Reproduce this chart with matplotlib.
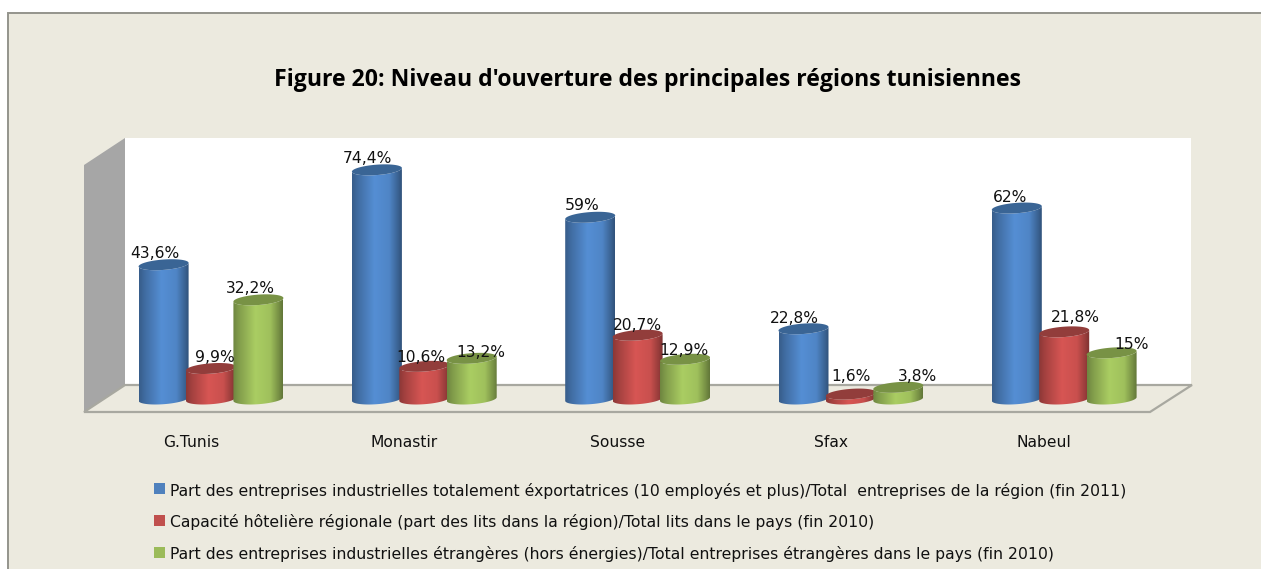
import numpy as np
import matplotlib
matplotlib.use("Agg")
import matplotlib.pyplot as plt
from matplotlib.colors import LinearSegmentedColormap, to_rgb
from matplotlib.patches import Polygon, Rectangle

# valeurs
regions = ["G.Tunis", "Monastir", "Sousse", "Sfax", "Nabeul"]
part_export = [43.6, 74.4, 59, 22.8, 62]
part_lits = [9.9, 10.6, 20.7, 1.6, 21.8]
part_etrangeres = [32.2, 13.2, 12.9, 3.8, 15]
etiq_export = ["43,6%", "74,4%", "59%", "22,8%", "62%"]
etiq_lits = ["9,9%", "10,6%", "20,7%", "1,6%", "21,8%"]
etiq_etrangeres = ["32,2%", "13,2%", "12,9%", "3,8%", "15%"]
legende = [
    "Part des entreprises industrielles totalement éxportatrices (10 employés et plus)/Total  entreprises de la région (fin 2011)",
    "Capacité hôtelière régionale (part des lits dans la région)/Total lits dans le pays (fin 2010)",
    "Part des entreprises industrielles étrangères (hors énergies)/Total entreprises étrangères dans le pays (fin 2010)",
]
titre = "Figure 20: Niveau d'ouverture des principales régions tunisiennes"

# decalage des etiquettes en pixels (les etiquettes ne sont pas centrees sur les barres)
dec_export = [(-9, 11), (-9, 11), (-8, 12), (-9, 10), (-7, 11)]
dec_lits = [(4, 11), (-3, 9), (0, 10), (0, 18), (11, 14)]
dec_etrangeres = [(-8, 11), (9, 6), (-1, 9), (19, 11), (20, 8)]

W, H = 1261, 569
BG = "#ECEADF"
GRIS = "#A8A8A0"
plt.rcParams["font.family"] = ["DejaVu Sans"]

fig = plt.figure(figsize=(W / 100, H / 100), dpi=100, facecolor="white")

# fond en pixels : cadre, mur, sol
bg = fig.add_axes([0, 0, 1, 1])
bg.set_xlim(0, W)
bg.set_ylim(H, 0)
bg.axis("off")
bg.add_patch(Rectangle((8, 13), W + 20, H, fc=BG, ec="#94948C", lw=1.4))
bg.add_patch(Polygon([(125, 138), (1191, 138), (1191, 385), (125, 385)], fc="white", ec="none"))
bg.add_patch(Polygon([(84, 165), (125, 138), (125, 385), (84, 412)], fc="#A6A6A6", ec="none"))
bg.add_patch(Polygon([(84, 412), (125, 385), (1192, 385), (1150, 412)], fc=BG, ec=GRIS, lw=1.6))

# axe des donnees : 0 % a y=399 px, 3.08 px par point, un groupe = 213.3 px
PX_Y = 3.08
PX_X = 213.3
Y0 = 399
x0_px, x1_px = 211 - PX_X / 2, 211 + 4.5 * PX_X
y_top, y_bas = 100, 440
ax = fig.add_axes([x0_px / W, 1 - y_bas / H, (x1_px - x0_px) / W, (y_bas - y_top) / H])
ylim = (-(y_bas - Y0) / PX_Y, (Y0 - y_top) / PX_Y)
ax.axis("off")
ax.patch.set_alpha(0)

BAR_W = 50 / PX_X
EL_B = 5.2 / PX_Y
TILT = 1.8 / PX_Y
t = np.linspace(0, 2 * np.pi, 120)


def gradient(base):
    c = np.array(to_rgb(base))
    return LinearSegmentedColormap.from_list(
        "g", [(0, c * 0.70), (0.12, c * 0.82), (0.45, np.minimum(c * 1.07, 1)),
              (0.75, c * 1.0), (0.92, c * 0.75), (1, c * 0.62)], N=64)


def cylindre(xc, val, base, top, z):
    r = BAR_W / 2
    bas = t[t >= np.pi]
    bx = xc + r * np.cos(bas)
    by = EL_B * np.sin(bas) + TILT * np.cos(bas)
    clip = Polygon(np.c_[np.r_[bx, bx[::-1]], np.r_[by, (val + by)[::-1]]],
                   closed=True, transform=ax.transData, fc="none", ec="none")
    ax.add_patch(clip)
    im = ax.imshow(np.linspace(0, 1, 64).reshape(1, -1), cmap=gradient(base), aspect="auto",
                   extent=(xc - r, xc + r, -EL_B * 2, val + EL_B * 2), zorder=z, interpolation="bilinear")
    im.set_clip_path(clip)
    ex = xc + r * np.cos(t)
    ey = EL_B * np.sin(t) + TILT * np.cos(t)
    ax.add_patch(Polygon(np.c_[ex, val + ey], closed=True, fc=top, ec="none", zorder=z + 0.1))


series = [
    (part_export, etiq_export, dec_export, "#4F85C6", "#3A6595", -47.4 / PX_X),
    (part_lits, etiq_lits, dec_lits, "#C9504E", "#923D3B", 0),
    (part_etrangeres, etiq_etrangeres, dec_etrangeres, "#9FC05C", "#789245", 47.4 / PX_X),
]
for j, (vals, labs, decs, col, top, dx) in enumerate(series):
    for i, v in enumerate(vals):
        cylindre(i + dx, v, col, top, 3 + j * 0.5)
        ax.annotate(labs[i], xy=(i + dx, v), xytext=decs[i], textcoords="offset pixels",
                    ha="center", va="center", fontsize=11.2, color="#111111", zorder=6)
ax.set_xlim(-0.5, 4.5)
ax.set_ylim(*ylim)

bg.text(647.5, 80, titre, ha="center", va="center", fontsize=16.55, fontweight="bold",
        color="black", family=["Open Sans", "DejaVu Sans"])
for y, s, c in zip([490.5, 522.5, 554.5], legende, ["#4F81BD", "#C0504D", "#9BBB59"]):
    bg.add_patch(Rectangle((154, y - 7.5), 11, 11, fc=c, ec="none"))
    bg.text(170, y, s, ha="left", va="center", fontsize=11.25, color="#111111")

# categories, decalees a gauche du centre de groupe
for i, r in enumerate(regions):
    ax.text(i - 20 / PX_X, -14.2, r, ha="center", va="center", fontsize=11.2, color="#111111", clip_on=False)

fig.savefig("out.png", dpi=100, facecolor="white")
